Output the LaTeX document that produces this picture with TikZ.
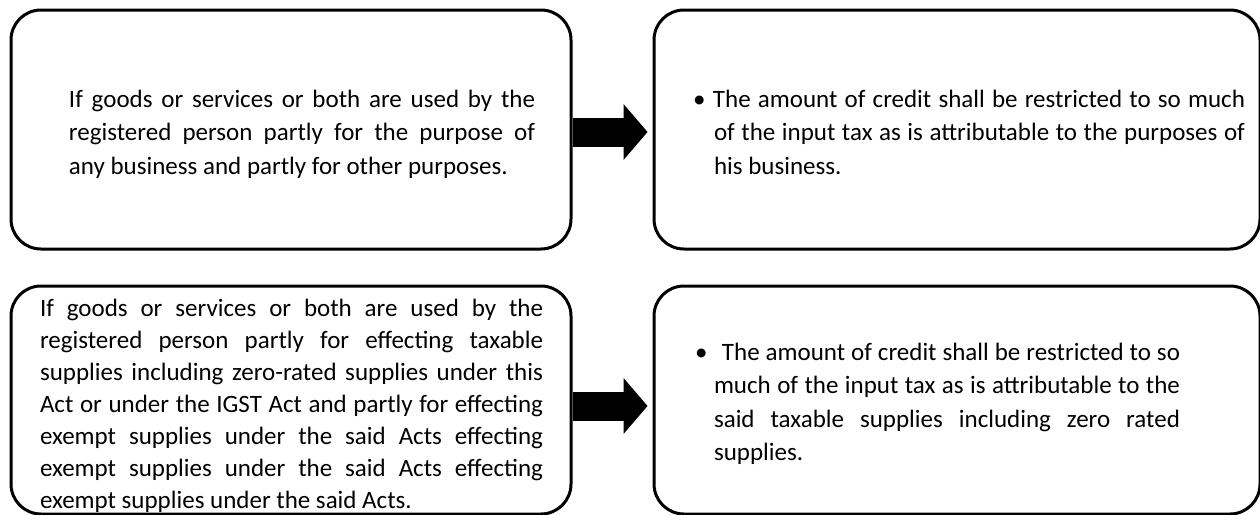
\documentclass[tikz,border=0pt]{standalone}
\usepackage{fontspec}
\setmainfont{Carlito}
\usetikzlibrary{positioning,arrows.meta}

\newcommand{\bulletmark}[2]{\hspace*{-#1}\makebox[#2][l]{\textbullet}}

\begin{document}
\begin{tikzpicture}[
  node distance=34pt and 80pt,
  box/.style={
    rectangle,
    rounded corners=30pt,
    draw=black,
    line width=3pt,
    inner sep=0pt,
    text width=#1,
    minimum width=#1,
    align=justify,
    text height=0pt,
    font=\fontsize{25pt}{33.5pt}\selectfont,
    execute at end node={\endgraf}
  },
  pad/.style 2 args={execute at begin node={\leftskip=#1\rightskip=#2\relax}},
  flow/.style={line width=29pt, shorten >=5pt,
    -{Triangle[length=24pt, width=56pt, line width=0pt]}}
]
\path[fill=white, use as bounding box] (0,0) rectangle (1260pt,-514pt);

% --- PARTLY BUSINESS USE --------------------------------------------
\node[box=560pt, minimum height=239pt, text depth=45pt, pad={58pt}{36pt}] (partuse) at (291pt,-129.5pt) {
  If goods or services or both are used by the\linebreak
  registered person partly for the purpose of\linebreak
  any business and partly for other purposes.
};

\node[box=606pt, minimum height=239pt, text depth=45pt, pad={60pt}{15pt}, right=of partuse] (partcredit) {
  \bulletmark{21pt}{20pt}The amount of credit shall be restricted to so much\linebreak
  of the input tax as is attributable to the purposes of\linebreak
  his business.
};

% --- PARTLY EXEMPT SUPPLIES -----------------------------------------
\node[box=560pt, minimum height=228pt, text depth=168pt, pad={29pt}{28pt},
  font=\fontsize{25pt}{32pt}\selectfont, below=of partuse] (exemptuse) {
  If goods or services or both are used by the\linebreak
  registered person partly for effecting taxable\linebreak
  supplies including zero-rated supplies under this\linebreak
  Act or under the IGST Act and partly for effecting\linebreak
  exempt supplies under the said Acts effecting\linebreak
  exempt supplies under the said Acts effecting\linebreak
  exempt supplies under the said Acts.
};

\node[box=606pt, minimum height=228pt, text depth=80pt, pad={60pt}{80pt}, right=of exemptuse] (exemptcredit) {
  \bulletmark{19pt}{27pt}The amount of credit shall be restricted to so\linebreak
  much of the input tax as is attributable to the\linebreak
  said taxable supplies including zero rated\linebreak
  supplies.
};

% --- ARROWS ----------------------------------------------------------
\draw[flow] ([yshift=-2.5pt]partuse.east) -- ([yshift=-2.5pt]partcredit.west);
\draw[flow] ([yshift=-6pt]exemptuse.east) -- ([yshift=-6pt]exemptcredit.west);

\end{tikzpicture}
\end{document}
